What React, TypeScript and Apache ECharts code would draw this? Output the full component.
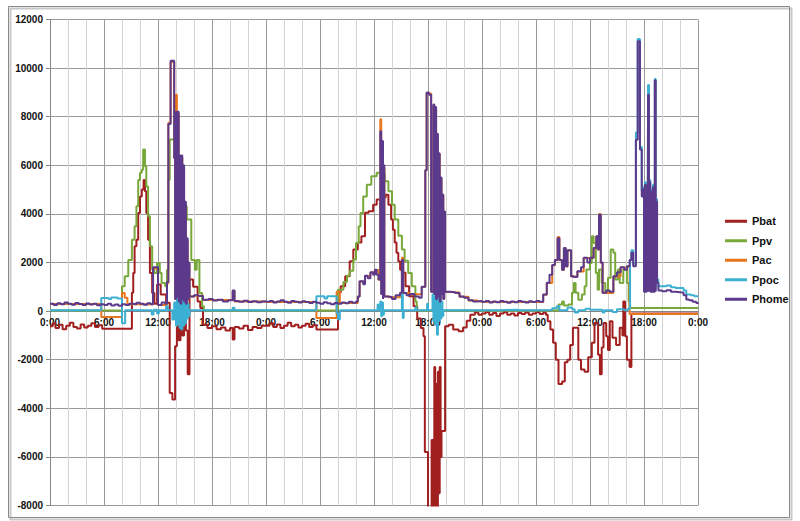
import React, { useEffect, useRef } from 'react';
import * as echarts from 'echarts';

const seriesNames = ['Pbat', 'Ppv', 'Pac', 'Ppoc', 'Phome'];
const seriesColors = ['#a21f1f', '#78a83a', '#e8761e', '#3cb0d2', '#5b3a8c'];
const xTickLabels = ['0:00', '6:00', '12:00', '18:00'];

// [hour, watts] — each value holds until the next point
const pbat: number[][] = [
  [0, -620], [0.3, -500], [0.6, -700], [1.0, -560], [1.4, -750], [1.8, -600], [2.2, -480], [2.6, -650], [3.0, -720], [3.4, -550], [3.8, -680], [4.2, -600], [4.6, -500], [5.0, -650], [5.4, -580], [5.8, -730],
  [9.1, 760], [9.25, 1570], [9.4, 2670], [9.6, 2940], [9.8, 4040], [10.0, 4720], [10.2, 5000], [10.4, 5400], [10.55, 4930], [10.7, 4040], [10.9, 2940], [11.1, 1570], [11.35, 750], [11.6, 300], [11.9, 1090], [12.3, 680], [12.9, 340],
  [13.3, -3370], [13.6, -3640], [13.9, -1450], [14.1, -600], [14.3, -1200], [14.5, -300], [14.7, -1000], [14.9, -200], [15.1, -800], [15.3, -2600], [15.5, 1300], [15.9, 1000], [16.4, 400], [16.7, 130],
  [17.0, -560], [17.5, -700], [18.0, -620], [18.5, -750], [19.0, -680], [19.5, -800], [20.0, -700], [20.3, -1170], [20.5, -650], [21.0, -720], [21.5, -600], [22.0, -780], [22.5, -650], [23.0, -700], [23.5, -600],
  [24.0, -600], [24.4, -500], [24.8, -650], [25.2, -550], [25.6, -700], [26.0, -600], [26.4, -480], [26.8, -620], [27.2, -560], [27.6, -680], [28.0, -600], [28.4, -520], [28.8, -650], [29.2, -580], [29.6, -760],
  [32.0, 760], [32.3, 1020], [32.8, 1430], [33.3, 2050], [33.7, 2530], [34.2, 2820], [34.6, 3080], [35.0, 4050], [35.4, 4110], [35.9, 4380], [36.3, 4590], [36.7, 2050], [36.9, 4600], [37.0, 4670], [37.3, 4790], [37.6, 4380], [37.9, 3770], [38.1, 3350], [38.3, 2820], [38.5, 2400], [38.7, 2050], [38.9, 1700], [39.1, 1580], [39.5, 1020], [39.9, 610], [40.4, 200], [40.8, -300], [41.2, -700], [41.5, -1040],
  [41.65, -5800], [42.0, -8500], [42.4, -5300], [42.6, -8500], [42.7, -2300], [42.8, -8500], [42.9, -3000], [43.0, -8500], [43.1, -2500], [43.2, -7500], [43.3, -2300], [43.4, -6000], [43.5, -4930], [43.9, -620],
  [44.3, -560], [44.8, -760], [45.4, -830], [45.9, -680], [46.3, -400], [46.7, -150], [47.2, -60], [47.6, -150],
  [48.0, -100], [48.4, -50], [48.8, -150], [49.2, -80], [49.6, -200], [50.0, -100], [50.4, -50], [50.8, -150], [51.2, -100], [51.6, -180], [52.0, -80], [52.4, -120], [52.8, -60], [53.2, -150], [53.6, -100], [54.0, -50], [54.4, -120], [54.8, -60],
  [55.1, -150], [55.3, -420], [55.6, -760], [55.9, -1300], [56.2, -2000], [56.5, -3000], [56.9, -2900], [57.2, -2100], [57.5, -2000], [57.8, -1400], [58.1, -690], [58.7, -2000], [59.0, -2400], [59.4, -2500], [59.8, -1900], [60.2, -1300], [60.5, -490], [60.9, -1800], [61.1, -2600], [61.3, -1500], [61.5, -490], [61.8, -1040], [62.0, -1600], [62.2, -420], [62.5, -1100], [62.9, -1400], [63.3, -690], [63.6, -1000], [63.7, 400], [63.9, -1040], [64.1, -2000], [64.4, -2300], [64.6, -100], [72, -100],
];

const ppv: number[][] = [
  [0, 20], [8.0, 1020], [8.3, 1430], [8.7, 2100], [9.1, 2940], [9.4, 3490], [9.6, 4310], [9.8, 5400], [10.0, 5690], [10.2, 5820], [10.35, 6650], [10.55, 5960], [10.7, 5130], [10.9, 3900], [11.1, 2670], [11.35, 1700], [11.6, 1570], [11.9, 1980], [12.2, 1570], [12.4, 1160], [12.8, 1020],
  [13.0, 1700], [13.15, 5400], [13.3, 7060], [13.95, 4720], [14.4, 4310], [15.2, 3770], [15.7, 2100], [16.1, 1700], [16.3, 2100], [16.6, 750], [16.9, 200], [17.1, 20],
  [32.0, 880], [32.6, 1200], [33.0, 1450], [33.3, 1660], [33.7, 2120], [34.0, 2800], [34.3, 3490], [34.5, 4040], [34.8, 4720], [35.2, 5200], [35.7, 5550], [36.3, 5690], [36.7, 5620], [37.2, 5340], [37.6, 4930], [38.0, 4380], [38.3, 3770], [38.7, 3100], [39.1, 2530], [39.4, 2070], [39.8, 1570], [40.2, 1020], [40.6, 400], [40.75, 20],
  [56.5, 270], [56.9, 400], [57.1, 230], [57.6, 270], [58.0, 760], [58.2, 1160], [58.4, 760], [58.7, 470], [59.1, 680], [59.4, 1020], [59.6, 1710], [60.0, 1980], [60.2, 3080], [60.4, 2800], [60.65, 1570], [60.85, 880], [61.0, 1710], [61.3, 1160], [61.7, 760], [62.0, 1370], [62.3, 2530], [62.6, 2400], [62.8, 1300], [63.1, 1710], [63.3, 1160], [63.7, 1710], [64.1, 1160], [64.3, 400], [64.4, 130], [72, 130],
];

const pac: number[][] = [
  [0, 290], [5.7, -240], [8.0, 750], [8.3, 550], [8.6, 280], [11.45, 1750], [12.0, 250], [13.0, 1150], [13.15, 7750], [13.4, 10250], [13.8, 6300], [13.9, 500],
  [14.0, 8900], [14.1, 600], [14.2, 8100], [14.3, 400], [14.4, 6300], [14.5, 300], [14.6, 6300], [14.7, 500], [14.8, 5900], [14.9, 400], [15.0, 4400], [15.1, 300], [15.2, 2900], [15.3, 500], [15.4, 1900], [15.5, 600], [16.0, 630], [17.0, 460], [20.3, 840], [20.5, 400],
  [24.0, 370], [29.6, -280], [31.85, 800], [32.2, 330], [34.2, 590], [34.4, 1220], [35.0, 1440], [35.6, 1590], [36.1, 1690], [36.5, 1290], [36.7, 7900], [36.8, 700], [36.9, 6900], [37.0, 500], [37.05, 5900], [37.15, 600], [37.6, 570], [38.9, 750], [39.1, 2200], [39.25, 740], [40.0, 690], [41.3, 990], [41.7, 5800], [41.85, 8950], [42.35, 790],
  [42.6, 8450], [42.7, 700], [42.8, 8350], [42.9, 500], [43.0, 7250], [43.1, 600], [43.2, 6450], [43.3, 400], [43.4, 5450], [43.5, 700], [43.6, 4750], [43.7, 500], [43.8, 4050], [43.9, 790], [44.5, 770], [45.5, 590], [46.5, 440], [47.5, 410],
  [48.0, 370], [54.8, 670], [55.2, 1160], [55.8, 1890], [56.1, 2090], [56.4, 3050], [56.6, 2090], [56.9, 1690], [57.1, 2590], [57.3, 1840], [57.5, 2490], [57.9, 1420], [58.6, 1630], [59.3, 2190], [60.0, 2190], [60.4, 2590], [60.7, 3070], [60.9, 2520], [61.0, 4000], [61.2, 1990], [61.4, 750], [62.6, 1420], [63.4, 1790], [64.1, 1840], [64.4, -115], [72, -115],
];

const ppoc: number[][] = [
  [0, 30], [5.7, 540], [6.5, 500], [6.8, 560], [7.5, 520], [8.0, -500], [8.35, 30], [11.3, -140], [11.5, 60], [11.9, -100], [12.1, 30], [12.9, 200], [13.1, 30], [13.6, -350], [13.8, 350],
  [14.0, -600], [14.1, 600], [14.2, -500], [14.3, 800], [14.4, -700], [14.5, 500], [14.6, -760], [14.7, 820], [14.8, -600], [14.9, 400], [15.0, -500], [15.1, 600], [15.2, -300], [15.3, 300], [15.4, -200], [15.5, 30], [20.3, 140], [20.5, 30],
  [24.0, 40], [29.6, 610], [30.5, 520], [30.8, 610], [31.85, -80], [32.0, -350], [32.2, 40], [36.4, 270], [36.5, 40], [36.7, 400], [36.8, -210], [36.9, 350], [37.0, -150], [37.1, 40], [39.1, 680], [39.2, -280], [39.3, 40], [40.6, 150], [40.7, 40], [41.9, 300], [42.0, 40],
  [42.5, 680], [42.6, -420], [42.7, 600], [42.8, -560], [42.9, 680], [43.0, -970], [43.1, 500], [43.2, -400], [43.3, 680], [43.4, -300], [43.5, 400], [43.6, -200], [43.7, 40],
  [48.0, 40], [50.0, 60], [52.0, 30], [54.0, 50], [55.8, 120], [56.3, 200], [56.6, 40], [57.5, 150], [58.0, 80], [58.3, -60], [58.7, 40], [59.5, 100], [60.0, 60], [61.4, -60], [61.6, 40], [62.5, -40], [63.0, 80], [63.8, 40], [64.2, 100],
  [64.45, 2100], [64.6, 2500], [64.8, 1950], [65.1, 7350], [65.3, 11200], [65.55, 6750], [65.75, 4930],
  [65.9, 5100], [66.0, 900], [66.1, 5300], [66.2, 900], [66.3, 4900], [66.4, 900], [66.45, 9300], [66.55, 900], [66.6, 5400], [66.7, 900], [66.8, 5000], [66.9, 900], [67.0, 5200], [67.1, 900], [67.2, 9550], [67.3, 900], [67.35, 4600],
  [67.45, 1300], [67.6, 1020], [68.5, 1050], [69.0, 980], [69.5, 950], [70.0, 950], [70.4, 850], [70.7, 680], [71.2, 650], [71.6, 610], [72, 600],
];

const phome: number[][] = [
  [0, 300], [0.4, 250], [0.8, 320], [1.2, 280], [1.6, 350], [2.0, 300], [2.4, 260], [2.8, 330], [3.2, 290], [3.6, 250], [4.0, 310], [4.4, 270], [4.8, 300], [5.2, 240], [5.6, 280], [6.0, 250], [6.4, 300], [6.8, 230], [7.2, 270], [7.6, 220], [8.0, 280], [8.4, 250], [8.8, 300], [9.2, 280], [9.6, 340], [10.0, 300], [10.4, 260], [10.8, 320], [11.2, 280],
  [11.45, 1800], [12.0, 250], [12.4, 350], [12.8, 300], [13.0, 1200], [13.15, 7700], [13.4, 10300], [13.8, 6300], [13.9, 500],
  [14.0, 8200], [14.1, 600], [14.2, 8200], [14.3, 400], [14.4, 6400], [14.5, 300], [14.6, 6400], [14.7, 500], [14.8, 6000], [14.9, 400], [15.0, 4500], [15.1, 300], [15.2, 3000], [15.3, 500], [15.4, 2000], [15.5, 600],
  [16.0, 650], [16.5, 620], [17.0, 470], [17.6, 500], [18.1, 440], [18.6, 470], [19.2, 400], [19.8, 450], [20.3, 850], [20.5, 420], [21.0, 380], [21.5, 430], [22.0, 370], [22.5, 410], [23.0, 360], [23.5, 400],
  [24.0, 380], [24.4, 420], [24.8, 350], [25.2, 400], [25.6, 450], [26.0, 380], [26.4, 340], [26.8, 420], [27.2, 380], [27.6, 350], [28.0, 410], [28.4, 370], [28.8, 330], [29.2, 380], [29.6, 340], [30.0, 300], [30.4, 360], [30.8, 320], [31.2, 280], [31.6, 330], [32.0, 300], [32.4, 350], [32.8, 320], [33.2, 380], [33.6, 340], [34.0, 400],
  [34.2, 600], [34.4, 1230], [34.8, 1100], [35.0, 1450], [35.3, 1350], [35.6, 1600], [35.9, 1500], [36.1, 1700], [36.3, 1500], [36.5, 1300],
  [36.7, 7400], [36.8, 700], [36.9, 7000], [37.0, 500], [37.05, 6000], [37.15, 600], [37.6, 580], [38.0, 500], [38.4, 650], [38.9, 760], [39.1, 2100], [39.25, 750], [39.6, 650], [40.0, 700], [40.5, 600], [41.0, 550], [41.3, 1000], [41.7, 5800], [41.85, 9000], [42.1, 8900], [42.35, 800],
  [42.6, 8500], [42.7, 700], [42.8, 8400], [42.9, 500], [43.0, 7300], [43.1, 600], [43.2, 6500], [43.3, 400], [43.4, 5500], [43.5, 700], [43.6, 4800], [43.7, 500], [43.8, 4100], [43.9, 800],
  [44.5, 780], [45.0, 750], [45.5, 600], [46.0, 550], [46.5, 450], [47.0, 400], [47.5, 420],
  [48.0, 380], [48.4, 420], [48.8, 350], [49.2, 400], [49.6, 360], [50.0, 420], [50.4, 380], [50.8, 340], [51.2, 400], [51.6, 360], [52.0, 420], [52.4, 380], [52.8, 350], [53.2, 410], [53.6, 370], [54.0, 420], [54.4, 380],
  [54.8, 680], [55.2, 1170], [55.5, 1500], [55.8, 1900], [56.1, 2100], [56.4, 3000], [56.6, 2100], [56.9, 1700], [57.1, 2600], [57.3, 1850], [57.5, 2500], [57.9, 1430], [58.2, 1400], [58.6, 1640], [59.0, 1800], [59.3, 2200], [59.7, 2000], [60.0, 2200], [60.4, 2600], [60.7, 3080], [60.9, 2530], [61.0, 3970], [61.2, 2000], [61.4, 760], [61.8, 850], [62.2, 800], [62.6, 1430], [63.0, 1600], [63.4, 1800], [63.8, 1700], [64.1, 1850], [64.4, 2100], [64.6, 2400], [64.8, 1850],
  [65.1, 7050], [65.3, 11100], [65.55, 6650], [65.75, 4720],
  [65.9, 5000], [66.0, 800], [66.1, 5200], [66.2, 800], [66.3, 4800], [66.4, 800], [66.45, 8900], [66.55, 800], [66.6, 5300], [66.7, 800], [66.8, 4900], [66.9, 800], [67.0, 5100], [67.1, 800], [67.2, 9500], [67.3, 800], [67.35, 4500],
  [67.45, 1170], [67.6, 850], [68.0, 820], [68.5, 860], [69.0, 800], [69.5, 780], [70.0, 760], [70.4, 650], [70.7, 480], [71.0, 450], [71.4, 380], [71.8, 330], [72, 300],
];

const seriesData = [pbat, ppv, pac, ppoc, phome];

const Y_MIN = -8000;
const Y_MAX = 12000;
const GRID_TOP = 19.5;
const GRID_BOTTOM = 15.5;
const CHART_H = 521;

export default function App() {
  const ref = useRef<HTMLDivElement>(null);
  useEffect(() => {
    if (!ref.current) return;
    const chart = echarts.init(ref.current, undefined, { renderer: 'svg' });
    const font = 'Liberation Sans, Arial, sans-serif';
    const plotH = CHART_H - GRID_TOP - GRID_BOTTOM;
    // move the time axis up from the bottom edge to the zero line
    const zeroOffset = -plotH * (0 - Y_MIN) / (Y_MAX - Y_MIN);
    chart.setOption({
      animation: false,
      backgroundColor: '#ffffff',
      textStyle: { fontFamily: font },
      graphic: [
        {
          type: 'rect',
          silent: true,
          z: -10,
          shape: { x: 10.5, y: 8.5, width: 781, height: 511 },
          style: { fill: 'none', stroke: '#c8c8c8', lineWidth: 2 },
        },
        {
          type: 'rect',
          silent: true,
          z: -9,
          shape: { x: 8.5, y: 6.5, width: 781, height: 511 },
          style: { fill: 'none', stroke: '#8a8a8a', lineWidth: 1 },
        },
      ],
      grid: { left: 50, right: 102, top: GRID_TOP, bottom: GRID_BOTTOM },
      legend: {
        orient: 'vertical',
        left: 720,
        top: 209.5,
        itemWidth: 22,
        itemHeight: 3,
        itemGap: 6,
        icon: 'rect',
        textStyle: { fontSize: 11, fontWeight: 'bold', color: '#111', lineHeight: 13.5, fontFamily: font },
        data: seriesNames,
      },
      xAxis: {
        type: 'value',
        position: 'bottom',
        min: 0,
        max: 72,
        interval: 6,
        offset: zeroOffset,
        axisLine: { onZero: false, lineStyle: { color: '#868686', width: 1 } },
        axisTick: { show: false },
        axisLabel: {
          fontSize: 10,
          fontWeight: 'bold',
          color: '#111',
          margin: 6,
          formatter: (v: number) => xTickLabels[Math.round(v / 6) % 4],
        },
        splitLine: { show: true, lineStyle: { color: '#9a9a9a', width: 1 } },
        minorTick: { show: false, splitNumber: 3 },
        minorSplitLine: { show: true, lineStyle: { color: '#d4d4d4', width: 1 } },
      },
      yAxis: {
        type: 'value',
        min: Y_MIN,
        max: Y_MAX,
        interval: 2000,
        axisLine: { show: true, onZero: false, lineStyle: { color: '#868686' } },
        axisTick: { show: true, length: 4, lineStyle: { color: '#868686' } },
        axisLabel: { fontSize: 10, fontWeight: 'bold', color: '#111', margin: 7, formatter: (v: number) => String(v) },
        splitLine: { show: true, lineStyle: { color: '#9a9a9a', width: 1 } },
      },
      series: seriesNames.map((name, i) => ({
        name,
        type: 'line',
        step: 'end',
        showSymbol: false,
        symbol: 'none',
        clip: true,
        color: seriesColors[i],
        lineStyle: { width: 2, color: seriesColors[i] },
        emphasis: { disabled: true },
        data: seriesData[i],
      })),
    });
    return () => chart.dispose();
  }, []);
  return (
    <div
      ref={ref}
      style={{ position: 'fixed', left: 0, top: 0, width: 800, height: 521, background: '#fff' }}
    />
  );
}
